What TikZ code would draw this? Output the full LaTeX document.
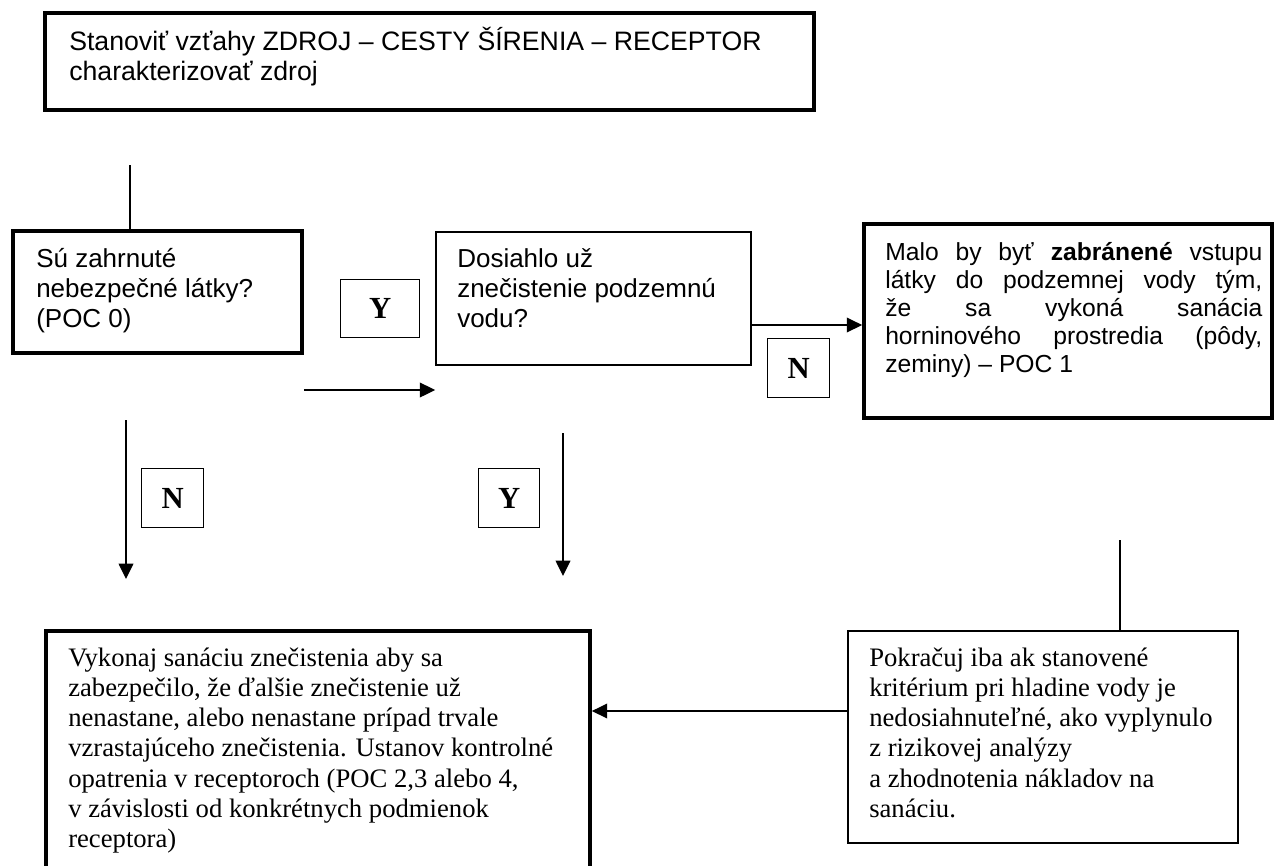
\documentclass[tikz,border=0pt]{standalone}
\usepackage{fontspec}
\newfontfamily\arialf{Liberation Sans}
\newfontfamily\timesf{Liberation Serif}
\usetikzlibrary{arrows.meta,fit,calc}
\begin{document}
\begin{tikzpicture}[x=0.75pt,y=-0.75pt,
  thickbox/.style={draw, line width=2.8pt, inner sep=0pt},
  thinbox/.style={draw, line width=1.2pt, inner sep=0pt},
  labelbox/.style={draw, line width=1.1pt, inner sep=0pt, font=\timesf\bfseries\fontsize{23}{23}\selectfont},
  sanstext/.style={anchor=base west, inner sep=0pt, font=\arialf\fontsize{19.5}{22.5}\selectfont},
  malotext/.style={anchor=base west, inner sep=0pt, font=\arialf\fontsize{18.5}{21}\selectfont},
  seriftext/.style={anchor=base west, inner sep=0pt, font=\timesf\fontsize{20}{22.7}\selectfont},
  conn/.style={line width=1.1pt},
  arr/.style={line width=1.1pt, -{Triangle[length=11.5pt,width=11pt]}}
]
\useasboundingbox (0,0) rectangle (1274,865);

% boxes
\node[thickbox, fit={(45,13) (814,110)}] (top) {};
\node[thickbox, fit={(13,231) (302,353)}] (su) {};
\node[thinbox, fit={(436,232) (751,365)}] (dos) {};
\node[thickbox, fit={(864,224) (1272,418)}] (malo) {};
\node[thickbox, fit={(46,631) (590,875)}] (bl) {};
\node[thinbox, fit={(848,631) (1238,843)}] (br) {};

% Y / N labels
\node[labelbox, minimum width=59.25pt, minimum height=43.5pt, anchor=north west] (y1) at (340,279) {Y};
\node[labelbox, minimum width=46.5pt, minimum height=44.25pt, anchor=north west] (n1) at (767,338) {N};
\node[labelbox, minimum width=46.5pt, minimum height=44.25pt, anchor=north west] (n2) at (141,468) {N};
\node[labelbox, minimum width=45.75pt, minimum height=44.25pt, anchor=north west] (y2) at (478,468) {Y};

% texts
\node[sanstext, font=\arialf\fontsize{20}{22.5}\selectfont] (toptext) at (69,50) {\parbox[t]{560pt}{\raggedright Stanoviť vzťahy ZDROJ – CESTY ŠÍRENIA – RECEPTOR\\charakterizovať zdroj}};
\node[sanstext] (sutext) at (36,267) {\parbox[t]{210pt}{\raggedright Sú zahrnuté\\nebezpečné látky?\\(POC 0)}};
\node[sanstext] (dostext) at (457,267) {\parbox[t]{225pt}{\raggedright Dosiahlo už\\znečistenie podzemnú\\vodu?}};
\node[malotext] (malotxt) at (885,260) {\parbox[t]{282.75pt}{Malo by byť \textbf{zabránené} vstupu\linebreak látky do podzemnej vody tým,\linebreak že sa vykoná sanácia\linebreak horninového prostredia (pôdy,\linebreak zeminy) – POC 1}};
\node[seriftext] (bltext) at (68,666) {\parbox[t]{390pt}{\raggedright Vykonaj sanáciu znečistenia aby sa\\zabezpečilo, že ďalšie znečistenie už\\nenastane, alebo nenastane prípad trvale\\vzrastajúceho znečistenia. Ustanov kontrolné\\opatrenia v receptoroch (POC 2,3 alebo 4,\\v závislosti od konkrétnych podmienok\\receptora)}};
\node[seriftext] (brtext) at (869,666) {\parbox[t]{270pt}{\raggedright Pokračuj iba ak stanovené\\kritérium pri hladine vody je\\nedosiahnuteľné, ako vyplynulo\\z rizikovej analýzy\\a zhodnotenia nákladov na\\sanáciu.}};

% connector helpers
\coordinate (l1) at (130,165);
\coordinate (y390) at (0,390);
\coordinate (y325) at (0,325);
\coordinate (y711) at (0,711);
\coordinate (d1s) at (126,420);
\coordinate (d1e) at (126,579);
\coordinate (d2s) at (563,433);
\coordinate (d2e) at (563,576);
\coordinate (l2) at (1120,540);

% connectors
\draw[conn] (l1) -- (l1 |- su.north);
\draw[arr] (su.east |- y390) -- (dos.west |- y390);
\draw[arr] (dos.east |- y325) -- (malo.west |- y325);
\draw[arr] (d1s) -- (d1e);
\draw[arr] (d2s) -- (d2e);
\draw[conn] (l2) -- (l2 |- br.north);
\draw[arr] (br.west |- y711) -- (bl.east |- y711);
\end{tikzpicture}
\end{document}
